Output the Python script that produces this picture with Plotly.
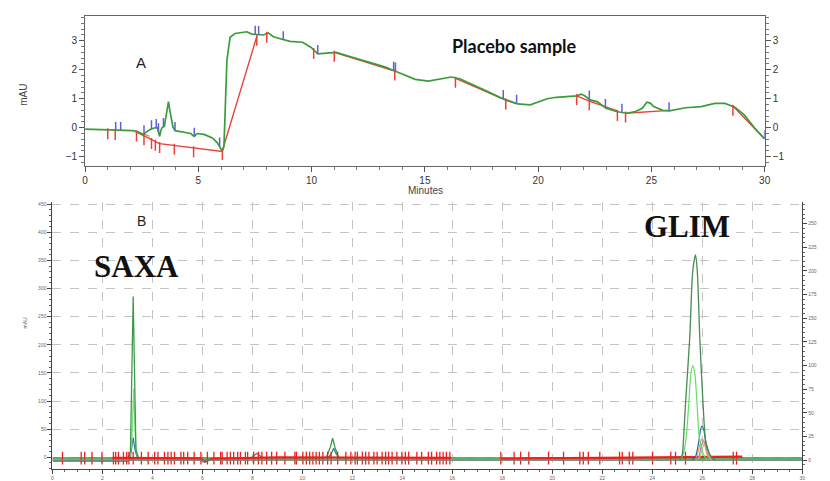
import numpy as np
import plotly.graph_objects as go

W, H = 830, 481

# ---------------- Panel A: placebo sample (mAU vs minutes) ----------------
a_time = [0, 0.5, 1.0, 1.3, 1.7, 2.1, 2.3, 2.42, 2.56, 2.7, 2.85, 3.04, 3.19, 3.24, 3.29,
          3.34, 3.39, 3.5, 3.6, 3.68, 3.74, 3.8, 3.88, 3.97, 4.38, 4.67, 4.75, 4.82, 4.89,
          4.96, 5.25, 5.62, 5.84, 5.98, 6.05, 6.13, 6.2, 6.26, 6.4, 6.62, 7.14, 7.36, 7.87,
          8.09, 8.31, 8.75, 9.04, 9.6, 9.98, 10.27, 10.57, 11.08, 11.8, 12.53, 13.26, 13.7,
          14.13, 14.57, 15.15, 15.73, 16.17, 16.54, 17.04, 17.8, 18.35, 18.64, 19.1, 19.65,
          20.0, 20.4, 20.8, 21.4, 21.7, 21.9, 22.05, 22.3, 22.6, 23.0, 23.45, 23.9, 24.3,
          24.6, 24.8, 24.95, 25.1, 25.5, 25.8, 26.5, 27.2, 27.8, 28.25, 28.7, 29.1, 29.55, 30.0]
a_mau = [-0.05, -0.06, -0.08, -0.1, -0.1, -0.1, -0.13, -0.18, -0.24, -0.15, -0.07, -0.01, 0.0,
         -0.15, -0.3, -0.12, 0.0, 0.05, 0.5, 0.9, 0.6, 0.33, 0.02, -0.1, -0.15, -0.2, -0.26,
         -0.3, -0.24, -0.2, -0.23, -0.35, -0.52, -0.69, -0.81, -0.64, 0.95, 2.32, 3.12, 3.25,
         3.31, 3.23, 3.2, 3.27, 3.14, 3.03, 2.98, 2.95, 2.77, 2.55, 2.57, 2.6, 2.43, 2.26, 2.09,
         1.95, 1.8, 1.67, 1.61, 1.69, 1.75, 1.69, 1.52, 1.24, 1.03, 0.95, 0.82, 0.79, 0.9, 1.0,
         1.05, 1.1, 1.1, 1.16, 1.1, 0.96, 0.9, 0.67, 0.56, 0.5, 0.56, 0.67, 0.88, 0.85, 0.73,
         0.6, 0.58, 0.69, 0.73, 0.84, 0.84, 0.7, 0.44, 0.0, -0.39]

# integration baselines
a_base_t = [[2.2, 3.29, 6.05, 7.58], [11.0, 13.67], [16.35, 18.57, 19.05],
            [21.7, 22.26, 23.5], [23.86, 25.78], [28.6, 30.0]]
a_base_v = [[-0.13, -0.55, -0.82, 3.15], [2.6, 1.95], [1.7, 0.95, 0.82],
            [1.1, 0.92, 0.58], [0.5, 0.6], [0.75, -0.39]]
a_split_t = [2.27, 2.85]
a_split_v = [-0.12, -0.3]

# peak start/stop markers
a_red_marks = [1.0, 1.33, 2.27, 2.6, 2.93, 3.1, 3.29, 3.94, 4.79, 6.06, 7.58, 8.02, 10.09,
               11.0, 13.67, 16.35, 18.57, 21.7, 22.26, 23.5, 23.86, 28.6]
a_blue_marks = [1.35, 1.57, 2.6, 2.93, 3.14, 3.24, 3.46, 3.97, 4.82, 5.94, 7.51, 7.66, 8.75,
                10.27, 13.62, 13.7, 18.46, 19.05, 22.26, 22.97, 23.7, 25.78, 30.0]

# ---------------- Panel B: SAXA / GLIM overlay ----------------
b_ticks_x = list(range(0, 31, 2))
b_left_ticks = list(range(0, 451, 50))
b_right_ticks = list(range(0, 251, 25))

# SAXA channel (left axis, mAU)
b_green_t = [0, 3.02, 3.12, 3.18, 3.23, 3.28, 3.34, 3.45, 7.95, 8.18, 8.4, 10.95, 11.12,
             11.21, 11.3, 11.45, 30]
b_green_v = [-1, -1, 10, 170, 286, 160, 12, -1, -1, 7, -1, -1, 18, 34, 18, -1, -1]
b_light_t = [0, 3.08, 3.17, 3.25, 3.33, 3.42, 30]
b_light_v = [-3, -3, 25, 122, 20, -3, -3]
b_teal_t = [0, 3.0, 3.1, 3.16, 3.23, 3.3, 3.4, 3.5, 5.9, 6.1, 6.3, 11.0, 11.15, 11.25,
            11.35, 11.5, 30]
b_teal_v = [-7, -7, -5, 12, 35, 14, -2, -4, -4, -9, -3, -3, 6, 16, 6, -3, -3]
b_gray_t = [0, 30]
b_gray_v = [-4, -4]

# GLIM channel (right axis)
g_base_t = [0, 30]
g_base_v = [0, 0]
g_main_t = [25.1, 25.2, 25.24, 25.33, 25.5, 25.62, 25.73, 25.8, 25.9, 26.03, 26.15, 26.32, 26.5]
g_main_v = [0, 6, 18, 60, 130, 200, 217, 200, 130, 60, 18, 5, 0]
g_light_t = [25.1, 25.24, 25.36, 25.46, 25.55, 25.62, 25.7, 25.79, 25.88, 26.05, 26.2]
g_light_v = [0, 6, 25, 60, 92, 100, 92, 60, 25, 6, 0]
g_teal_t = [25.6, 25.72, 25.85, 25.93, 25.99, 26.06, 26.15, 26.36, 26.5]
g_teal_v = [0, 3, 18, 32, 36, 32, 18, 3, 0]
g_orange_t = [25.65, 25.78, 25.9, 26.0, 26.1, 26.22, 26.4]
g_orange_v = [0, 4, 16, 23, 16, 4, 0]
g_purple_t = [25.7, 25.85, 25.95, 26.05, 26.15, 26.25, 26.4]
g_purple_v = [0, 3, 14, 21, 14, 3, 0]
g_olive_t = [25.75, 25.9, 26.0, 26.1, 26.2, 26.3, 26.45]
g_olive_v = [0, 3, 12, 18, 12, 3, 0]

# integration baseline with event marks (left axis)
b_red_t = [[2.4, 5.9, 6.1, 6.4, 9.0, 12.0, 15.95], [17.94, 19.1, 22.0, 25.0, 27.6]]
b_red_v = [[-1, -2, -7, -3, 0, -1, -1], [-3, -2, -1, 0, 1]]
b_red_marks = [0.40, 1.15, 1.29, 1.58, 1.98, 2.44, 2.53, 2.64, 2.84, 2.97, 3.06, 3.23, 3.56,
               3.83, 4.09, 4.22, 4.48, 4.62, 4.75, 4.88, 5.14, 5.25, 5.41, 5.67, 5.94, 6.2,
               6.46, 6.73, 6.79, 6.99, 7.12, 7.25, 7.41, 7.52, 7.72, 7.81, 8.05, 8.24, 8.38,
               8.57, 8.77, 8.97, 9.3, 9.7, 9.76, 10.02, 10.16, 10.29, 10.42, 10.55, 10.68,
               10.82, 11.01, 11.15, 11.41, 11.74, 11.94, 12.11, 12.2, 12.4, 12.53, 12.66,
               12.86, 12.99, 13.19, 13.33, 13.45, 13.59, 13.78, 13.98, 14.12, 14.25, 14.58,
               14.77, 15.04, 15.17, 15.37, 15.5, 15.63, 15.76, 15.9, 17.94, 18.47, 18.73,
               19.06, 19.85, 20.45, 21.1, 21.24, 21.44, 21.9, 22.69, 22.8, 23.08, 23.22,
               24.01, 24.74, 24.93, 25.33, 27.24, 27.37]

fig = go.Figure()


def line(x, y, color, width, xa, ya, shape='linear'):
    fig.add_trace(go.Scatter(x=x, y=y, mode='lines', xaxis=xa, yaxis=ya, hoverinfo='skip',
                             line=dict(color=color, width=width, shape=shape,
                                       smoothing=0.8 if shape == 'spline' else None)))


def level(t):
    v = float(np.interp(t, a_time, a_mau))
    for bt, bv in zip(a_base_t, a_base_v):
        if bt[0] <= t <= bt[-1]:
            v = min(v, float(np.interp(t, bt, bv)))
    return v


# --- Panel A traces ---
for bt, bv in zip(a_base_t, a_base_v):
    line(bt, bv, '#e8413c', 1.4, 'x', 'y')
line(a_split_t, a_split_v, '#d9894a', 1.2, 'x', 'y')
line(a_time, a_mau, '#3a9d3a', 1.7, 'x', 'y')

rx, ry = [], []
for t in a_red_marks:
    v = level(t)
    rx += [t, t, None]
    ry += [v + 0.06, v - 0.32, None]
line(rx, ry, '#e8413c', 1.5, 'x', 'y')

bx, by = [], []
for t in a_blue_marks:
    v = float(np.interp(t, a_time, a_mau))
    bx += [t, t, None]
    by += [v, v + 0.3, None]
line(bx, by, '#5b62d6', 1.5, 'x', 'y')

# --- Panel B traces ---
line(b_gray_t, b_gray_v, '#9a9a9a', 3, 'x2', 'y2')
line(g_base_t, g_base_v, '#6f8f78', 1.2, 'x2', 'y4')
line(b_teal_t, b_teal_v, '#2f7f8f', 1.2, 'x2', 'y2')
line(b_light_t, b_light_v, '#7ee07e', 1.3, 'x2', 'y2')
line(b_green_t, b_green_v, '#3a9a4a', 1.3, 'x2', 'y2')
line(g_olive_t, g_olive_v, '#b8c850', 1.1, 'x2', 'y4', 'spline')
line(g_purple_t, g_purple_v, '#b070e0', 1.1, 'x2', 'y4', 'spline')
line(g_orange_t, g_orange_v, '#e8a040', 1.1, 'x2', 'y4', 'spline')
line(g_teal_t, g_teal_v, '#2b6f9a', 1.2, 'x2', 'y4', 'spline')
line(g_light_t, g_light_v, '#66dd66', 1.2, 'x2', 'y4', 'spline')
line(g_main_t, g_main_v, '#4a8a55', 1.3, 'x2', 'y4', 'spline')
for bt, bv in zip(b_red_t, b_red_v):
    line(bt, bv, '#f01e1e', 2.2, 'x2', 'y2')
mx, my = [], []
for t in b_red_marks:
    mx += [t, t, None]
    my += [-13, 10, None]
line(mx, my, '#f01e1e', 1.3, 'x2', 'y2')

tickA = dict(size=10, color='#333', family='Liberation Sans')
tickB = dict(size=5, color='#666', family='Liberation Sans')
yA_range = [-1.33, 3.86]

fig.update_layout(
    width=W, height=H, margin=dict(l=0, r=0, t=0, b=0),
    paper_bgcolor='white', plot_bgcolor='rgba(0,0,0,0)', showlegend=False,
    xaxis=dict(domain=[83 / W, 770 / W], range=[0, 30], anchor='y', dtick=5,
               ticks='outside', ticklen=5, tickcolor='#555', showline=True,
               linecolor='#666', linewidth=1, mirror=True, showgrid=False, zeroline=False,
               tickfont=tickA, minor=dict(ticks='outside', ticklen=3, dtick=1, tickcolor='#777')),
    yaxis=dict(domain=[1 - 167 / H, 1 - 15 / H], range=yA_range, anchor='x', dtick=1,
               ticks='outside', ticklen=5, tickcolor='#555', showline=True,
               linecolor='#666', linewidth=1, mirror=True, showgrid=False, zeroline=False,
               tickfont=tickA, minor=dict(ticks='outside', ticklen=3, dtick=0.2, tickcolor='#777')),
    yaxis3=dict(overlaying='y', side='right', anchor='x', range=yA_range, dtick=1,
                ticks='outside', ticklen=5, tickcolor='#555', showline=True,
                linecolor='#666', showgrid=False, zeroline=False, tickfont=tickA,
                minor=dict(ticks='outside', ticklen=3, dtick=0.2, tickcolor='#777')),
    xaxis2=dict(domain=[50 / W, 808 / W], range=[0, 30], anchor='y2', tickvals=b_ticks_x,
                ticks='outside', ticklen=4, tickcolor='#444', showline=True,
                linecolor='#444', showgrid=True, gridcolor='#c4c4c4', griddash='dash',
                zeroline=False, tickfont=tickB,
                minor=dict(ticks='outside', ticklen=2, dtick=0.5, tickcolor='#666')),
    yaxis2=dict(domain=[1 - 473 / H, 1 - 203 / H], range=[-21, 454], anchor='x2',
                tickvals=b_left_ticks, ticks='outside', ticklen=4, tickcolor='#444',
                showline=True, linecolor='#444', showgrid=True, gridcolor='#c4c4c4',
                griddash='dash', zeroline=False, tickfont=tickB,
                minor=dict(ticks='outside', ticklen=2, dtick=10, tickcolor='#666')),
    yaxis4=dict(overlaying='y2', side='right', anchor='x2', range=[-9.4, 273],
                tickvals=b_right_ticks, ticks='outside', ticklen=4, tickcolor='#444',
                showline=True, linecolor='#444', showgrid=False, zeroline=False,
                tickfont=tickB,
                minor=dict(ticks='outside', ticklen=2, dtick=5, tickcolor='#666')),
)

# invisible point so the right-hand axis of panel A is drawn
fig.add_trace(go.Scatter(x=[0], y=[0], mode='markers', xaxis='x', yaxis='y3',
                         marker=dict(opacity=0), hoverinfo='skip'))


def text(s, px, py, size, family='Liberation Sans', color='#222', bold=False, angle=0):
    fig.add_annotation(text=f'<b>{s}</b>' if bold else s, x=px / W, y=1 - py / H,
                       xref='paper', yref='paper', xanchor='center', yanchor='middle',
                       showarrow=False, textangle=angle,
                       font=dict(size=size, family=family, color=color))


text('A', 140, 62, 15)
text('Placebo sample', 517, 45, 18, family='Lato', color='#111', bold=True)
text('Minutes', 427, 191, 10, color='#444')
text('mAU', 20, 95, 10, color='#444', angle=-90)
text('B', 140, 222, 14)
text('SAXA', 135, 268, 31, family='Liberation Serif', color='#111', bold=True)
text('GLIM', 692, 228, 31, family='Liberation Serif', color='#111', bold=True)
text('mAU', 22, 325, 5, color='#555', angle=-90)

fig.write_html('out.html')
